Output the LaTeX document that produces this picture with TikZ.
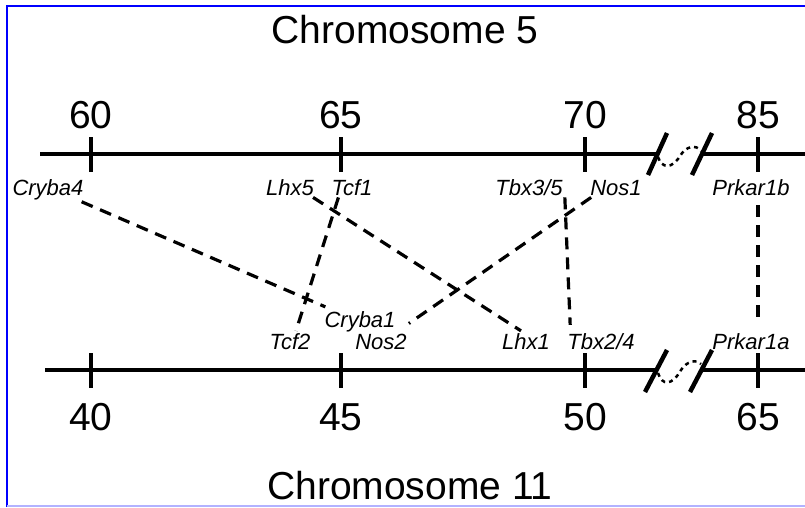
\documentclass[tikz,border=0pt]{standalone}
\usepackage{fontspec}
\setmainfont{Liberation Sans}
\usepackage{tikz}
\begin{document}
\begin{tikzpicture}[x=1pt,y=-1pt]
  \tikzset {
    big/.style={
      font=\fontsize{39}{39}\selectfont,
      inner sep=0pt,
      anchor=base
    },
    gene/.style={
      font=\fontsize{22}{22}\selectfont\itshape,
      inner sep=2pt,
      anchor=base
    },
    chrom/.style={line width=3.8pt},
    brk/.style={line width=4.5pt},
    gap/.style={line width=2.5pt, dash pattern=on 4pt off 4pt},
    link/.style={line width=3.2pt, dash pattern=on 12pt off 8pt}
  }
  \useasboundingbox (0,0) rectangle (805,507);
  \draw[blue, line width=2.5pt] (805,6) -- (7,6) -- (7,507);
  \draw[blue!30, line width=2pt] (7,506) -- (805,506);

  \node[big](chr5) at (405,43) {Chromosome 5};
  \node[big](chr11) at (410,499) {Chromosome 11};

  % chromosome 5
  \draw[chrom] (40,154) -- (657,154);
  \draw[chrom] (702,154) -- (805,154);
  \foreach \x/\n in {91/60, 341/65, 585/70, 758/85} {
    \draw[chrom] (\x,137) -- (\x,172);
    \node[big](top\n) at (\x,128) {\n};
  }
  \draw[brk] (648,175) -- (667,133);
  \draw[brk] (692,175) -- (712,133);
  \draw[gap] (658,157) .. controls (662,169) and (672,169) .. (680,156)
    .. controls (686,146) and (696,144) .. (701,151);

  % chromosome 11
  \draw[chrom] (45,370) -- (656,370);
  \draw[chrom] (701,370) -- (805,370);
  \foreach \x/\n in {91/40, 341/45, 585/50, 758/65} {
    \draw[chrom] (\x,353) -- (\x,388);
    \node[big](bot\n) at (\x,430) {\n};
  }
  \draw[brk] (645,392) -- (667,350);
  \draw[brk] (690,392) -- (712,350);
  \draw[gap] (658,373) .. controls (662,386) and (672,386) .. (681,370)
    .. controls (687,361) and (696,359) .. (701,364);

  % genes
  \node[gene](cryba4) at (48,195) {Cryba4};
  \node[gene](lhx5) at (290,195) {Lhx5};
  \node[gene](tcf1) at (352,195) {Tcf1};
  \node[gene](tbx35) at (529,195) {Tbx3/5};
  \node[gene](nos1) at (616,195) {Nos1};
  \node[gene](prkar1b) at (751,195) {Prkar1b};
  \node[gene](tcf2) at (290,349) {Tcf2};
  \node[gene](cryba1) at (360,327) {Cryba1};
  \node[gene](nos2) at (381,349) {Nos2};
  \node[gene](lhx1) at (526,349) {Lhx1};
  \node[gene](tbx24) at (601,349) {Tbx2/4};
  \node[gene](prkar1a) at (751,349) {Prkar1a};

  \draw[link] ([xshift=-4pt]cryba4.south east) -- ([xshift=3pt,yshift=2pt]cryba1.north west);
  \draw[link] ([xshift=9pt]tcf1.south west) -- ([xshift=6pt]tcf2.north);
  \draw[link] ([xshift=-3pt]lhx5.south east) -- ([xshift=-5pt]lhx1.north);
  \draw[link] ([xshift=3pt]nos1.south west) -- ([yshift=8pt]nos2.north east);
  \draw[link] (tbx35.south east) -- ([xshift=5pt,yshift=6pt]tbx24.north west);
  \draw[link] ([xshift=7pt,yshift=-8pt]prkar1b.south) -- ([xshift=7pt,yshift=9pt]prkar1a.north);
\end{tikzpicture}
\end{document}
